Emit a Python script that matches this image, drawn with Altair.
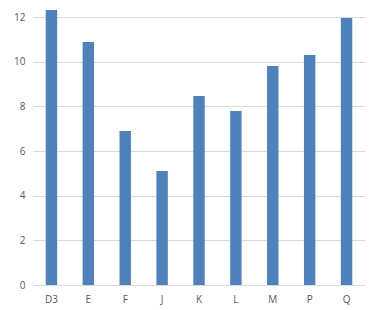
import altair as alt
import pandas as pd

categories = ["D3", "E", "F", "J", "K", "L", "M", "P", "Q"]
values = [12.31, 10.88, 6.9, 5.1, 8.46, 7.79, 9.81, 10.3, 11.96]

df = pd.DataFrame({"cat": categories, "val": values})

font = "Open Sans"
chart = (
    alt.Chart(df)
    .mark_bar(color="#4f81bd", clip=False)
    .encode(
        x=alt.X("cat:N", sort=categories, title=None,
                scale=alt.Scale(paddingInner=0.69, paddingOuter=0.345),
                axis=alt.Axis(labelAngle=0, ticks=False, domain=True, domainColor="#d9d9d9",
                              labelColor="#595959", labelFont=font, labelFontSize=10,
                              labelPadding=9, grid=False)),
        y=alt.Y("val:Q", title=None,
                scale=alt.Scale(domain=[0, 12], nice=False),
                axis=alt.Axis(values=[0, 2, 4, 6, 8, 10, 12], ticks=False, domain=False,
                              gridColor="#d9d9d9", labelColor="#595959", labelFont=font,
                              labelFontSize=10, labelPadding=8)),
    )
    .properties(width=332, height=268, autosize=alt.AutoSizeParams(type="none"),
                padding={"left": 33, "top": 17, "right": 15, "bottom": 25})
    .configure_view(stroke=None)
)

chart.save("out.html", embed_options={"renderer": "svg", "actions": False})
